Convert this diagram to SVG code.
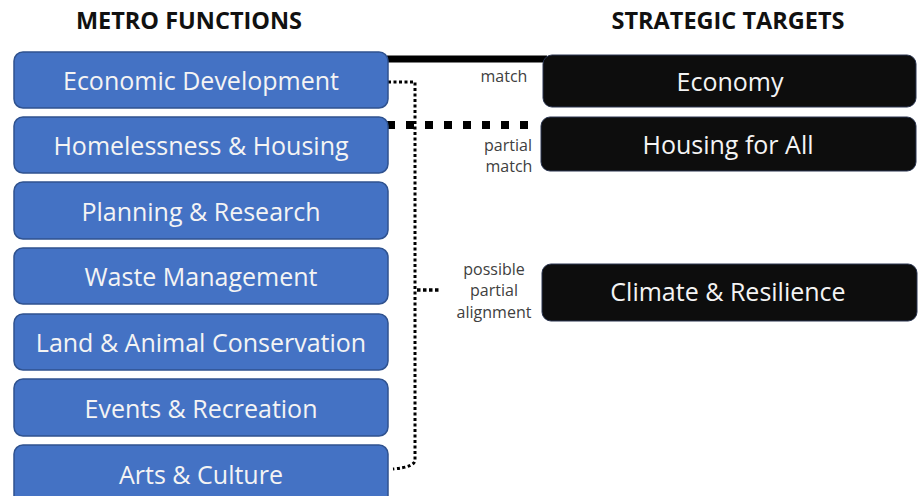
<svg xmlns="http://www.w3.org/2000/svg" width="919" height="496" viewBox="0 0 919 496">
<style>
.title{font-family:"Open Sans","Liberation Sans",sans-serif;font-weight:bold;font-size:23.5px;fill:#111;text-anchor:middle}
.fn rect{fill:#4472c4;stroke:#2f528f;stroke-width:1.5}
.fn text{font-family:"Open Sans","Liberation Sans",sans-serif;font-size:25px;fill:#f4f4f4;text-anchor:middle}
.tg rect{fill:#0d0d0d;stroke:#2a3550;stroke-width:1}
.tg text{font-family:"Open Sans","Liberation Sans",sans-serif;font-size:25px;fill:#f4f4f4;text-anchor:middle}
.lbl{font-family:"Open Sans","Liberation Sans",sans-serif;font-size:16px;fill:#404040;text-anchor:middle}
</style>
<rect width="919" height="496" fill="#ffffff"/>
<text class="title" x="189" y="29">METRO FUNCTIONS</text>
<text class="title" x="728" y="29">STRATEGIC TARGETS</text>

<g id="connectors" fill="none" stroke="#000">
  <path d="M387,59 H547" stroke-width="7"/>
  <path d="M387,125 H532" stroke-width="8" stroke-dasharray="8 11"/>
  <path d="M388,82 H415 V460 Q415,467 393,469" stroke-width="3" stroke-dasharray="3 2.5"/>
  <path d="M417,290 H441" stroke-width="3.5" stroke-dasharray="3.5 2.5"/>
</g>

<g id="fn-economic" class="fn"><rect x="14" y="52" width="374" height="56" rx="9"/><text x="201" y="90">Economic Development</text></g>
<g id="fn-housing" class="fn"><rect x="14" y="117" width="374" height="56" rx="9"/><text x="201" y="155">Homelessness &amp; Housing</text></g>
<g id="fn-planning" class="fn"><rect x="14" y="182" width="374" height="57" rx="9"/><text x="201" y="221">Planning &amp; Research</text></g>
<g id="fn-waste" class="fn"><rect x="14" y="248" width="374" height="56" rx="9"/><text x="201" y="286">Waste Management</text></g>
<g id="fn-land" class="fn"><rect x="14" y="314" width="374" height="56" rx="9"/><text x="201" y="352">Land &amp; Animal Conservation</text></g>
<g id="fn-events" class="fn"><rect x="14" y="379" width="374" height="57" rx="9"/><text x="201" y="418">Events &amp; Recreation</text></g>
<g id="fn-arts" class="fn"><rect x="14" y="445" width="374" height="60" rx="9"/><text x="201" y="484">Arts &amp; Culture</text></g>

<g id="tg-economy" class="tg"><rect x="543" y="55" width="373" height="52" rx="9"/><text x="730" y="91">Economy</text></g>
<g id="tg-housing" class="tg"><rect x="541" y="117" width="375" height="54" rx="9"/><text x="728" y="154">Housing for All</text></g>
<g id="tg-climate" class="tg"><rect x="542" y="264" width="375" height="57" rx="9"/><text x="728" y="301">Climate &amp; Resilience</text></g>

<g id="labels">
  <text class="lbl" x="504" y="82">match</text>
  <text class="lbl" x="508" y="151">partial</text>
  <text class="lbl" x="509" y="172">match</text>
  <text class="lbl" x="494" y="275">possible</text>
  <text class="lbl" x="494" y="296">partial</text>
  <text class="lbl" x="494" y="318">alignment</text>
</g>
</svg>
